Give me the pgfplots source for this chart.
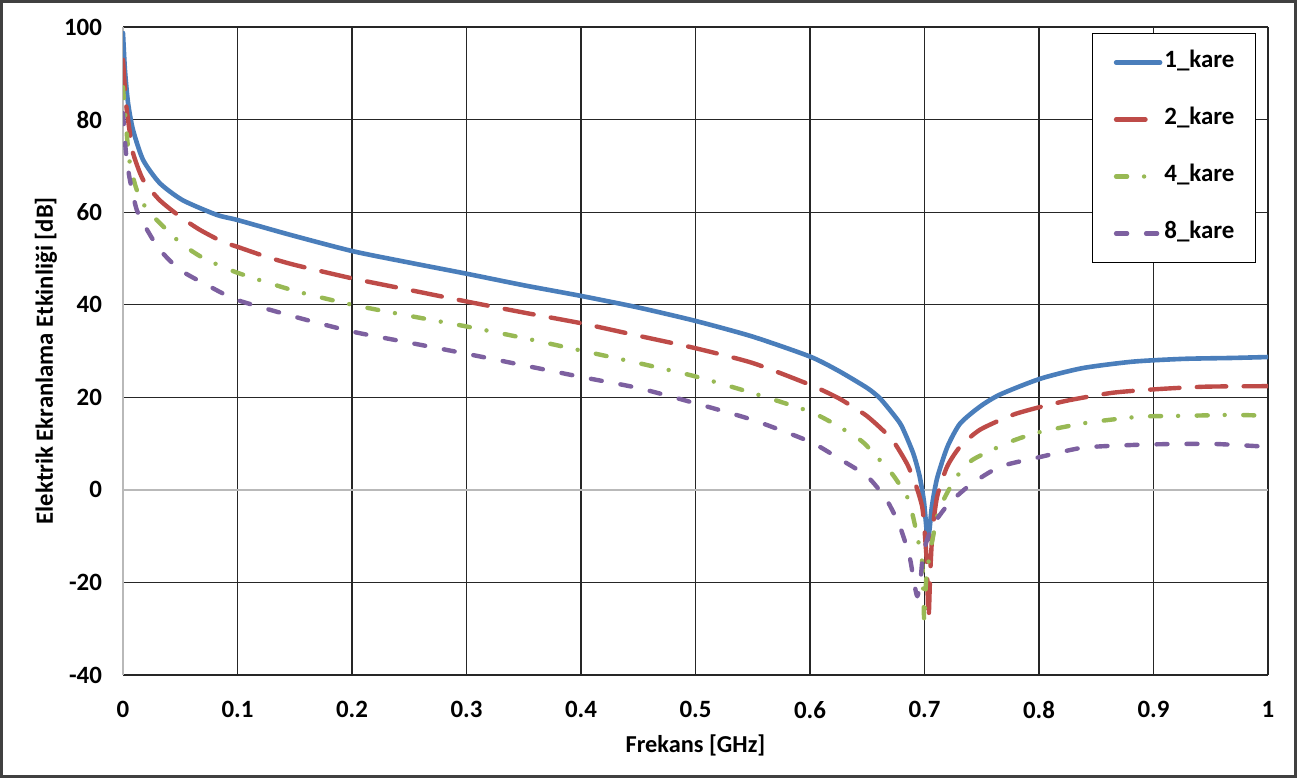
\documentclass[border=0pt]{standalone}
\usepackage{fontspec}
\setmainfont{Carlito}
\usepackage{pgfplots}
\usepackage{pgfplotstable}
\pgfplotsset{compat=1.18}
\definecolor{cblue}{RGB}{74,126,187}
\definecolor{cred}{RGB}{190,75,72}
\definecolor{cgreen}{RGB}{152,185,84}
\definecolor{cpurple}{RGB}{125,96,160}
\pgfplotstableread{
x y
0 98.7
0.0017 90.7
0.0044 83.6
0.0087 77.8
0.0175 71.3
0.032 66.3
0.052 62.6
0.082 59.4
0.1 58.3
0.146 55.1
0.2 51.6
0.25 49.1
0.3 46.7
0.35 44.2
0.4 41.9
0.45 39.4
0.5 36.5
0.55 33.1
0.6 28.8
0.625 25.7
0.65 22.0
0.661 19.8
0.6725 16.4
0.68 13.8
0.69 8.0
0.6955 3.2
0.6995 -2.5
0.703 -10.8
0.7065 -3.5
0.711 2.5
0.72 9.3
0.731 14.3
0.7485 18.0
0.766 20.6
0.801 24.0
0.838 26.3
0.882 27.7
0.926 28.3
0.969 28.5
1.0 28.7
}\tblA
\pgfplotstableread{
x y
0 92.9
0.0026 83.6
0.006 77.1
0.0087 72.8
0.0175 67.0
0.032 62.6
0.05 59.0
0.067 56.2
0.087 53.6
0.1 52.5
0.126 50.3
0.15 48.6
0.2 45.7
0.25 43.2
0.3 40.7
0.35 38.3
0.4 36.0
0.45 33.3
0.5 30.6
0.55 27.4
0.6 22.7
0.625 19.8
0.644 16.9
0.65 15.9
0.661 13.5
0.6725 10.6
0.685 5.5
0.693 0.6
0.698 -3.7
0.700 -8.6
0.702 -15.8
0.7035 -28
0.705 -18
0.707 -9
0.711 -1.5
0.7197 5.0
0.731 9.3
0.7485 13.0
0.777 16.2
0.801 17.9
0.827 19.4
0.865 21.0
0.906 21.8
0.947 22.3
1.0 22.4
}\tblB
\pgfplotstableread{
x y
0 87
0.0035 76.3
0.006 70.6
0.012 64.8
0.021 60.5
0.032 57.7
0.05 53.4
0.07 50.1
0.1 46.9
0.15 43.0
0.2 40.0
0.25 37.6
0.3 35.3
0.35 32.8
0.4 30.1
0.45 27.4
0.5 24.5
0.55 20.9
0.6 16.9
0.625 13.7
0.6437 10.8
0.65 9.4
0.6585 7.1
0.6725 3.2
0.685 -1.6
0.690 -5.8
0.6943 -10.8
0.698 -15.8
0.6995 -27
0.700 -28
0.702 -18
0.711 -5.8
0.718 -1.5
0.728 2.8
0.742 6.5
0.775 10.4
0.801 12.5
0.842 14.5
0.888 15.8
0.929 16.0
0.969 16.2
1.0 16.0
}\tblC
\pgfplotstableread{
x y
0 81.4
0.0026 72.8
0.006 67
0.012 60.5
0.021 56.2
0.032 51.9
0.05 47.5
0.076 43.9
0.1 41.0
0.15 37.4
0.2 34.2
0.25 31.8
0.3 29.4
0.35 26.9
0.4 24.4
0.45 22.0
0.5 18.7
0.55 15.1
0.6 10.4
0.625 6.8
0.65 2.9
0.667 -2.2
0.6786 -8
0.687 -14.5
0.6905 -19.5
0.6937 -23
0.6965 -19.5
0.699 -13.6
0.7066 -8
0.7205 -3.2
0.74 1.1
0.766 5.0
0.801 7.1
0.838 9.1
0.882 9.7
0.917 9.9
0.955 9.9
1.0 9.3
}\tblD
\begin{document}
\begin{tikzpicture}
\begin{axis}[
  name=ax,
  scale only axis,
  width=572.5bp, height=324bp,
  xmin=0, xmax=1, ymin=-40, ymax=100,
  xtick={0.1,0.2,0.3,0.4,0.5,0.6,0.7,0.8,0.9,1},
  ytick={-40,-20,20,40,60,80,100},
  extra x ticks={0}, extra y ticks={0},
  extra tick style={grid=major, major grid style={gray!55, line width=0.8bp}},
  grid=major,
  major grid style={black!85, line width=0.6bp},
  axis line style={draw=none},
  major tick length=0pt,
  /pgf/number format/assume math mode=true,
  tick label style={font=\bfseries\fontsize{12.5}{14}\selectfont},
  xticklabel style={yshift=-9.5bp},
  yticklabel style={xshift=-7bp},
  xlabel={Frekans [GHz]},
  ylabel={Elektrik Ekranlama Etkinliği [dB]},
  xlabel style={at={(axis description cs:0.5,-0.108)}, anchor=center, font=\bfseries\fontsize{12.2}{14}\selectfont},
  ylabel style={at={(axis description cs:-0.0672,0.485)}, anchor=center, font=\bfseries\fontsize{12.4}{14}\selectfont},
  legend style={at={(rel axis cs:0.9895,0.9907)}, anchor=north east, draw=black, line width=0.5bp, fill=white,
    inner xsep=10.5bp, inner ysep=8.5bp, row sep=16.5bp, column sep=1bp,
    font=\bfseries\fontsize{12.5}{14}\selectfont,
    nodes={inner sep=0pt, text height=8.7bp, text depth=3.3bp}},
  legend cell align=left,
  legend image code/.code={\draw[#1] (0bp,0bp) -- (22bp,0bp);},
  every axis plot/.append style={line join=round, line cap=round},
]
\addplot[cblue, line width=2.3bp, solid, smooth, tension=0.4] table {\tblA};
\addlegendentry{1\_kare}
\addplot[cred, line width=2.2bp, dash pattern=on 14.7bp off 8.7bp, smooth, tension=0.4] table {\tblB};
\addlegendentry{2\_kare}
\addplot[cgreen, line width=2.2bp, dash pattern=on 5.5bp off 8.5bp on 0bp off 9.3bp, smooth, tension=0.4] table {\tblC};
\addlegendentry{4\_kare}
\addplot[cpurple, line width=2.2bp, dash pattern=on 5.5bp off 9.5bp, smooth, tension=0.4] table {\tblD};
\addlegendentry{8\_kare}
\end{axis}
\draw[line width=1.5bp, black!75] ([shift={(-60.75bp,-50.75bp)}]ax.south west) rectangle ([shift={(13.75bp,12.75bp)}]ax.north east);
\end{tikzpicture}
\end{document}
